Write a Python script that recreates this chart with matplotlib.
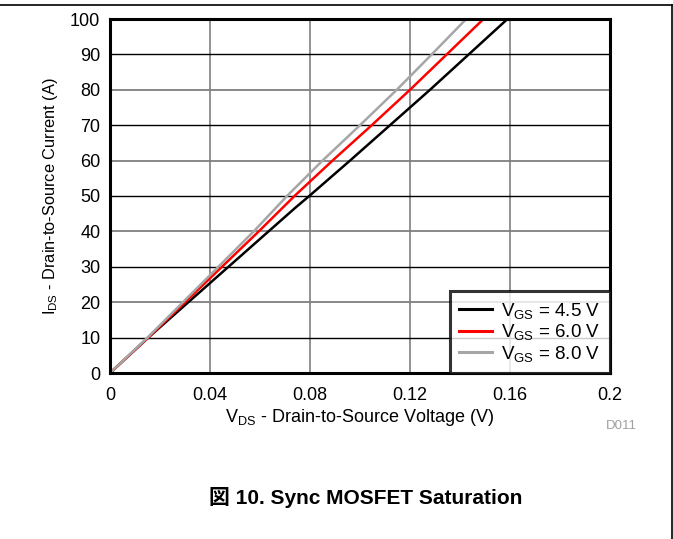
"""Sync MOSFET saturation curves (I_DS vs V_DS) for three gate voltages."""

import matplotlib
matplotlib.use("Agg")
import matplotlib.pyplot as plt
from matplotlib.lines import Line2D

plt.rcParams["font.family"] = ["Liberation Sans", "Noto Sans CJK JP", "DejaVu Sans"]
plt.rcParams["mathtext.fontset"] = "custom"
plt.rcParams["mathtext.rm"] = "Liberation Sans"
plt.rcParams["mathtext.default"] = "regular"

# curves
vds_45 = [0, 0.0153, 0.074, 0.0797, 0.096, 0.112, 0.128, 0.1435, 0.159]
ids_45 = [0, 10, 46.6, 50, 60, 70, 80, 90, 100]
vds_60 = [0, 0.0153, 0.0595, 0.0738, 0.089, 0.1047, 0.120, 0.1347, 0.1494]
ids_60 = [0, 10, 40, 50, 60, 70, 80, 90, 100]
vds_80 = [0, 0.015, 0.0575, 0.0708, 0.085, 0.100, 0.1147, 0.1287, 0.1425]
ids_80 = [0, 10, 40, 50, 60, 70, 80, 90, 100]

labels = ["V$_{GS}$ = 4.5 V", "V$_{GS}$ = 6.0 V", "V$_{GS}$ = 8.0 V"]
colors = ["#000000", "#ff0000", "#a6a6a6"]

x_ticks = [0, 0.04, 0.08, 0.12, 0.16, 0.2]
x_tick_labels = ["0", "0.04", "0.08", "0.12", "0.16", "0.2"]
y_ticks = list(range(0, 101, 10))

W, H = 673, 539
fig = plt.figure(figsize=(W / 100, H / 100), dpi=100)
ax = fig.add_axes([110 / W, (H - 373) / H, 500 / W, 354 / H])

# grid: vertical lines grey, horizontal lines alternate black / grey
for x in x_ticks[1:-1]:
    ax.axvline(x, color="#7f7f7f", lw=1.2, zorder=1)
for y in y_ticks[1:-1]:
    if y % 20:
        ax.axhline(y, color="black", lw=1.0, zorder=1)
    else:
        ax.axhline(y, color="#7f7f7f", lw=1.3, zorder=1)

for v, i, lab, c in zip([vds_45, vds_60, vds_80], [ids_45, ids_60, ids_80], labels, colors):
    ax.plot(v, i, color=c, lw=1.8, label=lab, zorder=3)

ax.set_xlim(0, 0.2)
ax.set_ylim(0, 100)
ax.set_xticks(x_ticks)
ax.set_xticklabels(x_tick_labels)
ax.set_yticks(y_ticks)
ax.tick_params(length=0, labelsize=13)
ax.tick_params(axis="x", pad=10)
ax.tick_params(axis="y", pad=7)
for s in ax.spines.values():
    s.set_linewidth(2.2)
    s.set_zorder(5)

ax.set_xlabel("V$_{DS}$ - Drain-to-Source Voltage (V)", fontsize=13, labelpad=2)
ax.set_ylabel("I$_{DS}$ - Drain-to-Source Current (A)", fontsize=11.8, labelpad=7)

leg = ax.legend(loc="lower right", fontsize=13.5, frameon=True, fancybox=False,
                borderaxespad=0, handlelength=1.75, handletextpad=0.5,
                labelspacing=0.08, borderpad=0.5)
leg.get_frame().set_edgecolor("black")
leg.get_frame().set_linewidth(2.2)
leg.set_zorder(6)
for h in leg.legend_handles:
    h.set_linewidth(2.2)

fig.text(621 / W, 1 - 426 / H, "D011", color="#a0a0a0", fontsize=9.5,
         ha="center", va="center")
fig.text(366 / W, 1 - 497 / H, "図 10. Sync MOSFET Saturation", fontsize=15,
         fontweight="bold", ha="center", va="center")

# page frame (top rule and right rule)
fig.add_artist(Line2D([0, 671.5 / W], [1 - 4.5 / H, 1 - 4.5 / H], color="black", lw=1.2))
fig.add_artist(Line2D([671.5 / W, 671.5 / W], [1 - 4.5 / H, 0], color="black", lw=1.2))

fig.savefig("out.png", dpi=100)
